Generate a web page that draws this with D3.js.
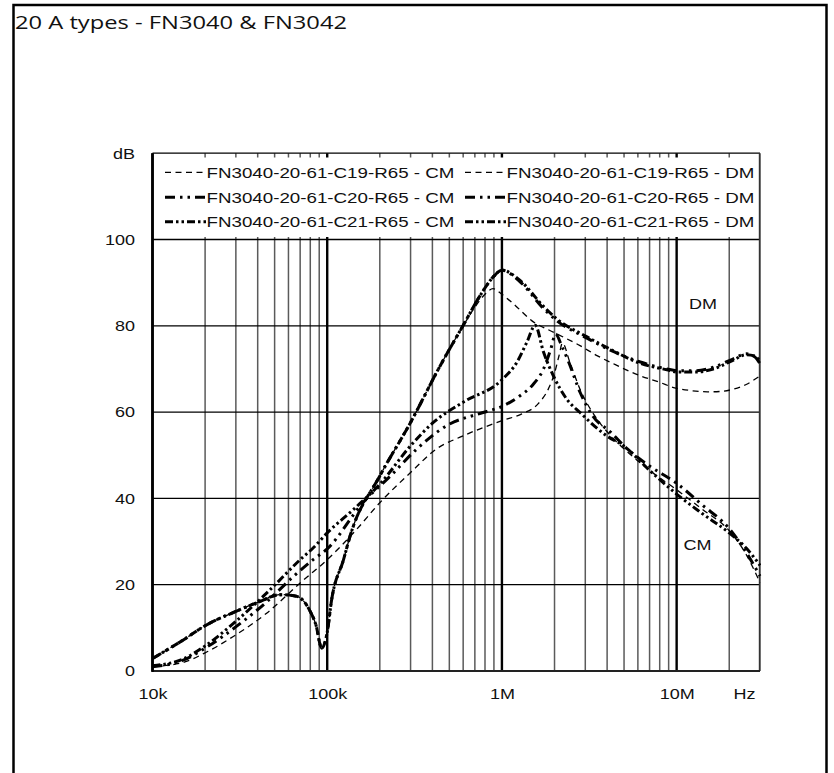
<!DOCTYPE html>
<html>
<head>
<meta charset="utf-8">
<script src="https://cdn.jsdelivr.net/npm/d3@7"></script>
<style>
  html, body { margin: 0; padding: 0; background: #fff; }
  svg { display: block; }
</style>
</head>
<body>
<svg id="chart" width="834" height="773"></svg>
<script>
// ---------------- DATA ----------------
const titleText = "20 A types - FN3040 & FN3042";

const seriesNames = [
  "FN3040-20-61-C19-R65 - CM",
  "FN3040-20-61-C19-R65 - DM",
  "FN3040-20-61-C20-R65 - CM",
  "FN3040-20-61-C20-R65 - DM",
  "FN3040-20-61-C21-R65 - CM",
  "FN3040-20-61-C21-R65 - DM"
];

const xTickValues = [1e4, 1e5, 1e6, 1e7, 2.43e7];
const xTickLabels = ["10k", "100k", "1M", "10M", "Hz"];
const yTickValues = [0, 20, 40, 60, 80, 100, 120];
const yTickLabels = ["0", "20", "40", "60", "80", "100", "dB"];

// C19 CM
const c19cmFreq = [1e4, 1.5e4, 2e4, 2.9e4, 4.5e4, 7e4, 1e5, 1.45e5, 2e5, 3e5, 4.2e5, 6e5, 1e6, 1.3e6, 1.6e6, 1.85e6, 2e6, 2.12e6, 2.22e6, 2.45e6, 2.8e6, 3.5e6, 4.2e6, 5.5e6, 7e6, 1e7, 1.4e7, 2e7, 2.5e7, 3e7];
const c19cmDb   = [1.0, 2.0, 4.2, 8.0, 13.4, 20.4, 25.8, 32.5, 39.0, 46.0, 51.4, 54.5, 58.0, 59.6, 61.8, 65.5, 69.0, 73.0, 76.0, 71.5, 65.3, 58.4, 54.5, 50.0, 46.5, 42.0, 37.5, 32.5, 27.0, 20.5];

// C19 DM
const c19dmFreq = [1e4, 1.5e4, 2e4, 3e4, 4.1e4, 5.4e4, 6.7e4, 7.9e4, 8.6e4, 9.3e4, 1e5, 1.06e5, 1.24e5, 1.35e5, 2e5, 3e5, 4.4e5, 6e5, 7e5, 8e5, 8.9e5, 1e6, 1.2e6, 1.48e6, 2e6, 2.8e6, 3.5e6, 4.35e6, 6.2e6, 8e6, 9.6e6, 1.2e7, 1.5e7, 1.8e7, 2.1e7, 2.5e7, 3e7];
const c19dmDb   = [2.9, 7.2, 10.5, 13.8, 16.1, 17.7, 17.3, 14.2, 10.8, 5.3, 9.0, 16.5, 25.8, 31.2, 45.2, 57.6, 70.5, 80.0, 84.3, 87.3, 88.6, 87.3, 84.6, 81.2, 78.4, 75.4, 73.1, 71.2, 68.4, 66.9, 65.7, 65.0, 64.7, 64.8, 65.3, 66.4, 68.4];

// C20 CM
const c20cmFreq = [1e4, 1.5e4, 2e4, 3.2e4, 4.5e4, 6.4e4, 8.3e4, 1e5, 1.6e5, 2.3e5, 3.25e5, 4.8e5, 7.8e5, 1e6, 1.27e6, 1.5e6, 1.73e6, 1.9e6, 2.03e6, 2.2e6, 2.4e6, 2.8e6, 3.3e6, 4.2e6, 5.2e6, 7e6, 1e7, 1.4e7, 2e7, 2.5e7, 3e7];
const c20cmDb   = [1.0, 2.5, 5.3, 11.1, 16.0, 21.9, 25.8, 28.3, 39.0, 45.2, 51.4, 56.8, 59.9, 61.3, 63.8, 66.3, 70.0, 74.5, 78.1, 75.3, 71.8, 64.6, 59.2, 55.3, 51.5, 47.5, 43.5, 38.5, 33.0, 27.5, 22.0];

// C20 DM
const c20dmFreq = [1e4, 1.5e4, 2e4, 3e4, 4.1e4, 5.4e4, 6.7e4, 7.9e4, 8.6e4, 9.3e4, 1e5, 1.06e5, 1.24e5, 1.35e5, 2e5, 3e5, 4.4e5, 6e5, 7.5e5, 9e5, 1e6, 1.27e6, 1.73e6, 2.06e6, 3.05e6, 4.2e6, 6.2e6, 8.8e6, 1e7, 1.3e7, 1.62e7, 2.1e7, 2.5e7, 2.8e7, 3e7];
const c20dmDb   = [2.9, 7.2, 10.5, 13.8, 16.1, 17.7, 17.3, 14.2, 10.8, 5.3, 9.0, 16.5, 25.8, 31.2, 45.2, 57.6, 70.5, 80.1, 87.0, 91.5, 92.9, 90.2, 84.0, 81.2, 77.2, 74.3, 71.6, 70.0, 69.6, 69.6, 70.4, 72.3, 73.5, 72.8, 71.2];

// C21 CM
const c21cmFreq = [1e4, 1.5e4, 2e4, 3e4, 4.7e4, 7e4, 8.3e4, 1e5, 1.41e5, 2e5, 3e5, 4.05e5, 6e5, 1e6, 1.22e6, 1.39e6, 1.55e6, 1.73e6, 1.97e6, 2.35e6, 2.8e6, 3.98e6, 4.96e6, 7e6, 1e7, 1.4e7, 2e7, 2.5e7, 3e7];
const c21cmDb   = [1.2, 2.8, 5.8, 11.5, 18.8, 25.8, 28.5, 32.0, 37.4, 43.3, 52.2, 57.6, 62.3, 67.5, 71.6, 76.2, 80.1, 73.9, 68.4, 63.0, 59.9, 54.5, 52.2, 46.5, 41.0, 36.5, 32.0, 28.5, 24.5];

// C21 DM
const c21dmFreq = [1e4, 1.5e4, 2e4, 3e4, 4.1e4, 5.4e4, 6.7e4, 7.9e4, 8.6e4, 9.3e4, 1e5, 1.06e5, 1.24e5, 1.35e5, 2e5, 3e5, 4.4e5, 6e5, 7.5e5, 9e5, 1e6, 1.27e6, 1.73e6, 2.06e6, 3.05e6, 4.2e6, 6.2e6, 8.8e6, 1e7, 1.3e7, 1.62e7, 2.1e7, 2.5e7, 2.8e7, 3e7];
const c21dmDb   = [2.9, 7.2, 10.5, 13.8, 16.1, 17.7, 17.3, 14.2, 10.8, 5.3, 9.0, 16.5, 25.8, 31.2, 45.2, 57.6, 70.5, 80.1, 87.0, 91.5, 92.9, 90.5, 84.5, 81.6, 77.5, 74.5, 71.3, 69.8, 69.3, 69.3, 70.0, 72.0, 73.3, 73.0, 71.8];

// ---------------- LAYOUT ----------------
const W = 834, H = 773;
const pLeft = 152.5, pRight = 760, pBottom = 671, pTop = 153.2;
const svg = d3.select("#chart");
const ARIAL = "'Liberation Sans', Arial, sans-serif";
const SX = 1.2; // horizontal stretch seen in the reference text

svg.append("rect").attr("x", 0).attr("y", 0).attr("width", W).attr("height", H).attr("fill", "#fff");

// outer frame
svg.append("rect").attr("x", 13.5).attr("y", 5).attr("width", 813).attr("height", 820)
  .attr("fill", "none").attr("stroke", "#000").attr("stroke-width", 2.5);

// title
svg.append("text").attr("x", 15).attr("y", 28.5)
  .attr("font-family", "'Open Sans', 'DejaVu Sans', sans-serif").attr("font-size", 18.5)
  .attr("textLength", 332).attr("lengthAdjust", "spacingAndGlyphs")
  .attr("fill", "#111").text(titleText);

const x = d3.scaleLog().domain([1e4, 3e7]).range([pLeft, pRight]);
const y = d3.scaleLinear().domain([0, 120]).range([pBottom, pTop]);

// vertical grid values (1..9 per decade)
const gridX = [];
for (let e = 4; e <= 7; e++) for (let k = 1; k <= 9; k++) {
  const v = k * Math.pow(10, e);
  if (v <= 3e7) gridX.push({ v, major: k === 1 });
}

const grid = svg.append("g");
grid.selectAll("line.vx").data(gridX).join("line")
  .attr("x1", d => x(d.v)).attr("x2", d => x(d.v))
  .attr("y1", pTop).attr("y2", pBottom)
  .attr("stroke", d => d.major ? "#000" : "#5a5a5a")
  .attr("stroke-width", d => d.major ? 2.4 : 1.5);

grid.selectAll("line.hy").data([20, 40, 60, 80, 100]).join("line")
  .attr("x1", pLeft).attr("x2", pRight)
  .attr("y1", d => y(d)).attr("y2", d => y(d))
  .attr("stroke", "#000").attr("stroke-width", 1.3);

// legend white box covering grid
svg.append("rect").attr("x", pLeft + 1.5).attr("y", 157.5)
  .attr("width", pRight - pLeft - 3).attr("height", 79.5).attr("fill", "#fff");

// plot border
svg.append("line").attr("x1", pLeft).attr("x2", pRight).attr("y1", pTop).attr("y2", pTop)
  .attr("stroke", "#000").attr("stroke-width", 1.3);
svg.append("line").attr("x1", pRight - 0.5).attr("x2", pRight - 0.5).attr("y1", pTop).attr("y2", pBottom)
  .attr("stroke", "#333").attr("stroke-width", 1.4);
svg.append("line").attr("x1", pLeft).attr("x2", pRight).attr("y1", pBottom).attr("y2", pBottom)
  .attr("stroke", "#222").attr("stroke-width", 2);
svg.append("line").attr("x1", pLeft).attr("x2", pLeft).attr("y1", pTop).attr("y2", pBottom + 1)
  .attr("stroke", "#000").attr("stroke-width", 2.6);

// axes labels via d3 axes
const yAxis = d3.axisLeft(y).tickValues(yTickValues)
  .tickFormat((d, i) => yTickLabels[i]).tickSize(0).tickPadding(14.6);
const gy = svg.append("g").attr("transform", `translate(${pLeft},0)`).call(yAxis);
gy.select(".domain").remove();
gy.selectAll("text").attr("font-family", ARIAL).attr("font-size", 15).attr("fill", "#111")
  .attr("transform", `scale(${SX},1)`);

const xAxis = d3.axisBottom(x).tickValues(xTickValues)
  .tickFormat((d, i) => xTickLabels[i]).tickSize(0).tickPadding(17.8);
const gx = svg.append("g").attr("transform", `translate(0,${pBottom})`).call(xAxis);
gx.select(".domain").remove();
gx.selectAll("text").attr("font-family", ARIAL).attr("font-size", 15).attr("fill", "#111")
  .attr("transform", `scale(${SX},1)`);

// series styles
const styles = {
  thin:  { w: 1.3, dash: "6,4.5" },
  c20:   { w: 3.0, dash: "10,5,2.5,5,2.5,5" },
  c21:   { w: 3.0, dash: "8,3,2.5,3,2.5,3" }
};
const series = [
  { name: seriesNames[0], f: c19cmFreq, v: c19cmDb, s: styles.thin },
  { name: seriesNames[1], f: c19dmFreq, v: c19dmDb, s: styles.thin },
  { name: seriesNames[2], f: c20cmFreq, v: c20cmDb, s: styles.c20 },
  { name: seriesNames[3], f: c20dmFreq, v: c20dmDb, s: styles.c20 },
  { name: seriesNames[4], f: c21cmFreq, v: c21cmDb, s: styles.c21 },
  { name: seriesNames[5], f: c21dmFreq, v: c21dmDb, s: styles.c21 }
];

const line = d3.line().x(d => x(d[0])).y(d => y(d[1])).curve(d3.curveMonotoneX);

svg.append("g").selectAll("path").data(series).join("path")
  .attr("d", d => line(d.f.map((f, i) => [f, d.v[i]])))
  .attr("fill", "none").attr("stroke", "#000")
  .attr("stroke-width", d => d.s.w)
  .attr("stroke-dasharray", d => d.s.dash)
  .attr("stroke-linejoin", "round");

// legend
const rowY = [172.3, 197.3, 221.7];
const colX = [165, 465];
const leg = svg.append("g");
series.forEach((s, i) => {
  const col = i % 2, row = Math.floor(i / 2);
  const lx = colX[col], ly = rowY[row];
  leg.append("line").attr("x1", lx).attr("x2", lx + 41).attr("y1", ly).attr("y2", ly)
    .attr("stroke", "#000").attr("stroke-width", s.s.w).attr("stroke-dasharray", s.s.dash);
  leg.append("text")
    .attr("transform", `translate(${lx + 41.5},${ly + 5.4}) scale(1.25,1)`)
    .attr("font-family", ARIAL).attr("font-size", 15).attr("fill", "#111")
    .text(s.name);
});

// CM / DM annotations
svg.append("text").attr("transform", `translate(703,309.4) scale(${SX},1)`)
  .attr("text-anchor", "middle").attr("font-family", ARIAL).attr("font-size", 15).attr("fill", "#111").text("DM");
svg.append("text").attr("transform", `translate(697.5,550.4) scale(${SX},1)`)
  .attr("text-anchor", "middle").attr("font-family", ARIAL).attr("font-size", 15).attr("fill", "#111").text("CM");
</script>
</body>
</html>
